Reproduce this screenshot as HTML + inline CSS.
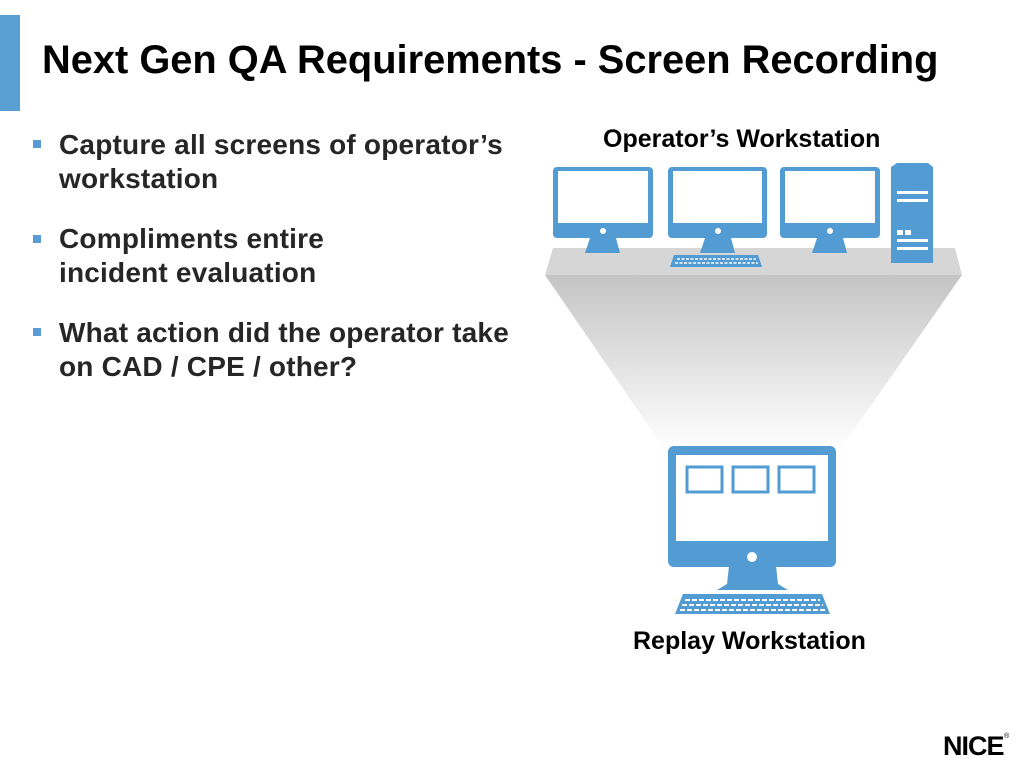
<!DOCTYPE html>
<html><head><meta charset="utf-8"><style>
body{margin:0;width:1024px;height:768px;background:#fff;position:relative;overflow:hidden;font-family:"Liberation Sans",Arial,sans-serif}
.t{position:absolute;font-weight:bold;color:#000;white-space:nowrap}
.b{position:absolute;left:59px;font-size:28px;font-weight:bold;color:#262626;line-height:34px;white-space:nowrap;letter-spacing:0.2px}
.sq{position:absolute;left:33px;width:8px;height:8px;background:#5b9bd5}
</style></head><body>
<div style="position:absolute;left:0;top:15px;width:20px;height:96px;background:#5a9fd4"></div>
<div class="t" style="left:42px;top:38px;font-size:39.8px">Next Gen QA Requirements - Screen Recording</div>
<div class="sq" style="top:140px"></div><div class="b" style="top:128px">Capture all screens of operator’s<br>workstation</div>
<div class="sq" style="top:235px"></div><div class="b" style="top:222px">Compliments entire<br>incident evaluation</div>
<div class="sq" style="top:328px"></div><div class="b" style="top:316px">What action did the operator take<br>on CAD / CPE / other?</div>
<div class="t" style="left:603px;top:125px;font-size:25px">Operator’s Workstation</div>
<div class="t" style="left:633px;top:627px;font-size:25px">Replay Workstation</div>
<svg width="1024" height="768" style="position:absolute;left:0;top:0">
<defs><linearGradient id="g" x1="0" y1="0" x2="0" y2="1"><stop offset="0" stop-color="#c4c4c4"/><stop offset="1" stop-color="#fff"/></linearGradient></defs>
<polygon points="545,275 962,275 840,450 665,450" fill="url(#g)"/>
<polygon points="553,248 955,248 962,275 545,275" fill="#d6d6d6"/>
<g fill="#529bd3">
<rect x="553" y="167" width="100" height="71" rx="4"/><rect x="668" y="167" width="99" height="71" rx="4"/><rect x="780" y="167" width="100" height="71" rx="4"/>
<polygon points="590,238 616,238 620,253 585,253"/><polygon points="705,238 731,238 735,253 700,253"/><polygon points="817,238 843,238 847,253 812,253"/>
<polygon points="674,255 758,255 762,267 670,267"/>
<polygon points="891,167 897,163 928,163 933,167 933,263 891,263"/>
<rect x="668" y="446" width="168" height="121" rx="6"/>
<polygon points="729,566 776,566 778,584 788,590 717,590 727,584"/>
<polygon points="683,594 822,594 830,614 675,614"/>
</g>
<g fill="#fff">
<rect x="558" y="171" width="90" height="52"/><rect x="673" y="171" width="89" height="52"/><rect x="785" y="171" width="90" height="52"/>
<circle cx="603" cy="231" r="3"/><circle cx="718" cy="231" r="3"/><circle cx="830" cy="231" r="3"/>
<rect x="897" y="191" width="31" height="3"/><rect x="897" y="199" width="31" height="3"/><rect x="897" y="239" width="31" height="3"/><rect x="897" y="247" width="31" height="3"/>
<rect x="897" y="230" width="6" height="5"/><rect x="905" y="230" width="6" height="5"/>
<rect x="676" y="455" width="152" height="86"/>
<circle cx="752" cy="557" r="5"/>
</g>
<g fill="none" stroke="#529bd3" stroke-width="3">
<rect x="687" y="467" width="35" height="25"/><rect x="733" y="467" width="35" height="25"/><rect x="779" y="467" width="35" height="25"/>
</g>
<g stroke="#fff" stroke-width="2" stroke-dasharray="5,2">
<line x1="685" y1="600" x2="820" y2="600"/><line x1="682" y1="605" x2="823" y2="605"/><line x1="680" y1="610" x2="826" y2="610"/>
<line x1="677" y1="259" x2="756" y2="259" stroke-width="1.5" stroke-dasharray="3,1.5"/><line x1="675" y1="263" x2="758" y2="263" stroke-width="1.5" stroke-dasharray="3,1.5"/>
</g>
</svg>
<div class="t" style="left:943px;top:731px;font-size:27px;font-weight:900;letter-spacing:-1px">NICE</div>
<div style="position:absolute;left:1004px;top:733px;font-size:7px">®</div>
</body></html>
